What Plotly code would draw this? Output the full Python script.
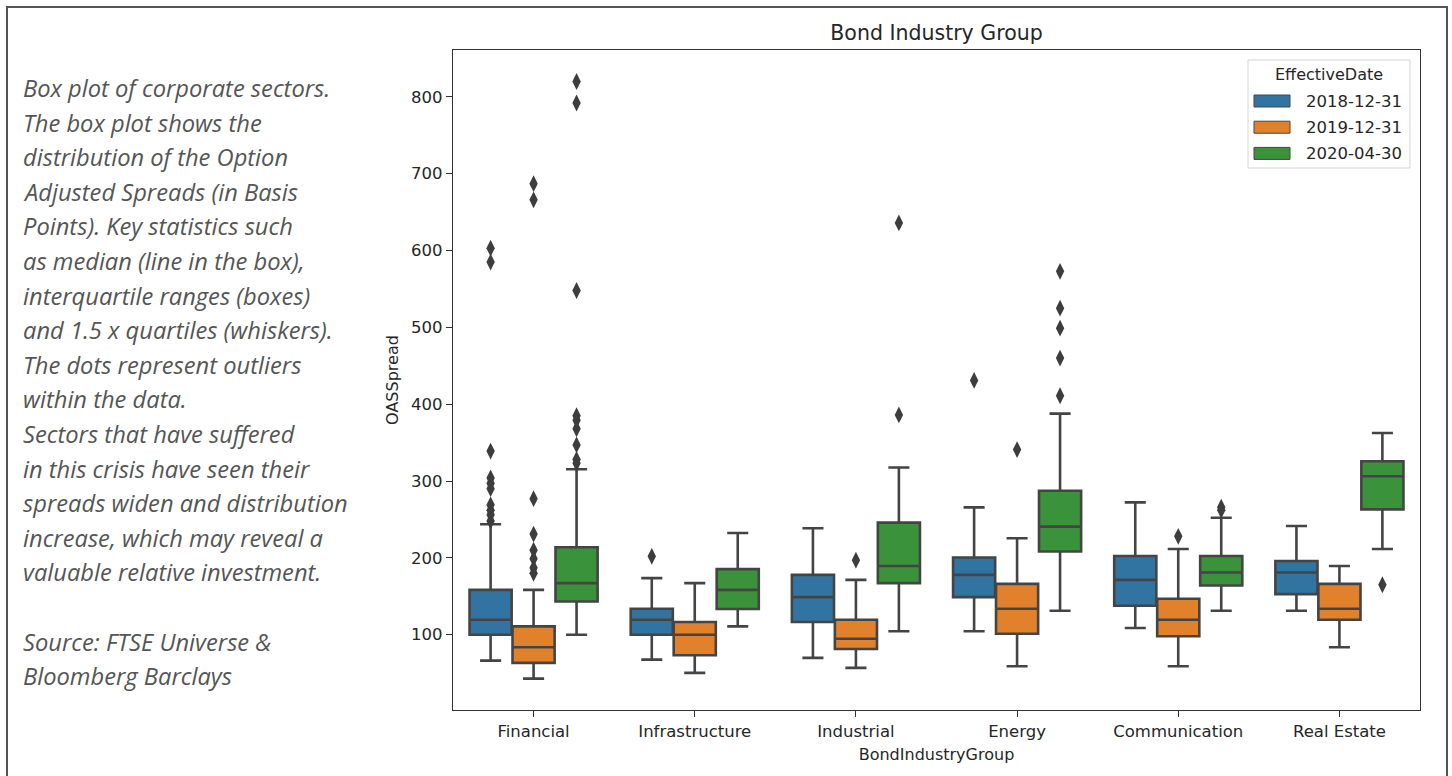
import plotly.graph_objects as go

# ---------------- data ----------------
categories = ["Financial", "Infrastructure", "Industrial", "Energy", "Communication", "Real Estate"]
dates = ["2018-12-31", "2019-12-31", "2020-04-30"]

q1_2018 = [100.0, 100.0, 116.5, 148.9, 137.6, 152.8]
med_2018 = [119.5, 119.5, 148.9, 177.9, 171.4, 181.0]
q3_2018 = [158.4, 133.7, 177.9, 200.4, 202.5, 196.0]
lo_2018 = [66.3, 67.6, 69.8, 104.4, 108.7, 131.1]
hi_2018 = [243.7, 173.6, 238.5, 265.7, 272.2, 241.4]

q1_2019 = [63.3, 73.3, 81.4, 101.3, 97.9, 119.5]
med_2019 = [83.6, 100.0, 94.8, 133.7, 119.5, 133.7]
q3_2019 = [110.9, 116.5, 119.5, 166.2, 146.7, 166.2]
lo_2019 = [42.9, 50.3, 56.8, 59.0, 59.0, 83.6]
hi_2019 = [158.4, 167.1, 171.4, 225.5, 211.6, 189.5]

q1_2020 = [143.3, 133.4, 167.1, 208.2, 164.1, 263.1]
med_2020 = [167.1, 158.4, 189.5, 240.7, 181.0, 306.3]
q3_2020 = [213.8, 185.3, 245.9, 287.4, 202.5, 325.8]
lo_2020 = [100.0, 110.9, 104.4, 131.1, 131.1, 211.6]
hi_2020 = [315.4, 232.4, 317.6, 387.7, 252.3, 362.6]

out_2018 = [
    [603, 585, 339, 304, 297, 290, 269, 262, 256, 248],
    [202],
    [],
    [431],
    [],
    [],
]
out_2019 = [
    [687, 666, 277, 231, 210, 199, 187, 180],
    [],
    [197],
    [341],
    [228],
    [],
]
out_2020 = [
    [820, 792, 548, 385, 379, 368, 347, 328, 323],
    [],
    [636, 386],
    [573, 525, 499, 460, 411],
    [266, 262],
    [165],
]

y_ticks = [100, 200, 300, 400, 500, 600, 700, 800]

# ---------------- styling ----------------
colors = ["#3274A1", "#E1812C", "#3A923A"]
edge = "#444444"
W, H = 1452, 776
L, R, T, B = 453, 1420, 50, 710          # plot area in pixels


def px_x(px):
    return (px - L) / (R - L)


def px_y(py):
    return (B - py) / (B - T)


stats = [
    (q1_2018, med_2018, q3_2018, lo_2018, hi_2018, out_2018),
    (q1_2019, med_2019, q3_2019, lo_2019, hi_2019, out_2019),
    (q1_2020, med_2020, q3_2020, lo_2020, hi_2020, out_2020),
]

slot = 0.8 / 3
offsets = [-slot, 0.0, slot]

fig = go.Figure()
for k, (q1, med, q3, lo, hi, outs) in enumerate(stats):
    xs = [i + offsets[k] for i in range(len(categories))]
    fig.add_trace(go.Box(
        x=xs, q1=q1, median=med, q3=q3, lowerfence=lo, upperfence=hi,
        width=slot * 0.98, whiskerwidth=0.5,
        fillcolor=colors[k], line=dict(color=edge, width=2.6),
        boxpoints=False, name=dates[k], showlegend=False,
    ))
    ox, oy = [], []
    for i, vals in enumerate(outs):
        for v in vals:
            ox.append(i + offsets[k])
            oy.append(v)
    fig.add_trace(go.Scatter(
        x=ox, y=oy, mode="markers", showlegend=False, name=dates[k],
        marker=dict(symbol="diamond-tall", size=12, color="#3d3d3d",
                    line=dict(width=0)),
    ))

# ---------------- left description text ----------------
text_lines = [
    "Box plot of corporate sectors.",
    "The box plot shows the",
    "distribution of the Option",
    "Adjusted Spreads (in Basis",
    "Points). Key statistics such",
    "as median (line in the box),",
    "interquartile ranges (boxes)",
    "and 1.5 x quartiles (whiskers).",
    "The dots represent outliers",
    "within the data.",
    "Sectors that have suffered",
    "in this crisis have seen their",
    "spreads widen and distribution",
    "increase, which may reveal a",
    "valuable relative investment.",
    "",
    "Source: FTSE Universe &",
    "Bloomberg Barclays",
]
annotations = []
for j, line in enumerate(text_lines):
    if not line:
        continue
    yc = 88 + j * 34.6
    annotations.append(dict(
        text=line, xref="paper", yref="paper", x=px_x(21), y=px_y(yc),
        xanchor="left", yanchor="middle", showarrow=False,
        font=dict(family="Open Sans", size=23.7, color="#555555", style="italic"),
    ))

# ---------------- frame and legend (drawn) ----------------
shapes = []
shapes.append(dict(type="rect", xref="paper", yref="paper",
                   x0=px_x(7), x1=px_x(1447), y0=px_y(820), y1=px_y(7),
                   line=dict(color="#555555", width=2), fillcolor="rgba(0,0,0,0)",
                   layer="below"))
shapes.append(dict(type="rect", xref="paper", yref="paper",
                   x0=px_x(1248), x1=px_x(1410), y0=px_y(168), y1=px_y(60),
                   line=dict(color="#d5d5d5", width=1), fillcolor="rgba(255,255,255,0.85)"))
annotations.append(dict(text="EffectiveDate", xref="paper", yref="paper",
                        x=px_x(1329), y=px_y(75), xanchor="center", yanchor="middle",
                        showarrow=False, font=dict(family="DejaVu Sans", size=16, color="#262626")))
for k, d in enumerate(dates):
    yc = 101 + k * 26.2
    shapes.append(dict(type="rect", xref="paper", yref="paper",
                       x0=px_x(1254), x1=px_x(1290), y0=px_y(yc + 6), y1=px_y(yc - 6),
                       line=dict(color=edge, width=1), fillcolor=colors[k]))
    annotations.append(dict(text=d, xref="paper", yref="paper",
                            x=px_x(1304), y=px_y(yc), xanchor="left", yanchor="middle",
                            showarrow=False,
                            font=dict(family="DejaVu Sans", size=16.5, color="#262626")))

axis_common = dict(showline=True, mirror=True, linecolor="#333333", linewidth=1.3,
                   ticks="outside", ticklen=6, tickcolor="#333333", tickwidth=1.2,
                   showgrid=False, zeroline=False,
                   tickfont=dict(family="DejaVu Sans", size=16.5, color="#262626"))

fig.update_layout(
    width=W, height=H,
    margin=dict(l=L, r=W - R, t=T, b=H - B, pad=0),
    paper_bgcolor="white", plot_bgcolor="white",
    boxmode="overlay",
    title=dict(text="Bond Industry Group", x=(L + R) / 2 / W, xref="container", xanchor="center",
               y=1 - 33 / H, yref="container", yanchor="middle",
               font=dict(family="DejaVu Sans", size=20.5, color="#262626")),
    xaxis=dict(range=[-0.5, 5.5], tickvals=list(range(len(categories))), ticktext=categories,
               title=dict(text="BondIndustryGroup", standoff=8,
                          font=dict(family="DejaVu Sans", size=16, color="#262626")),
               **axis_common),
    yaxis=dict(range=[2, 861], tickvals=y_ticks, ticktext=[str(v) for v in y_ticks],
               title=dict(text="OASSpread", standoff=8,
                          font=dict(family="DejaVu Sans", size=16, color="#262626")),
               **axis_common),
    shapes=shapes,
    annotations=annotations,
    showlegend=False,
)

fig.write_html("out.html", config={"displayModeBar": False},
               post_script="document.body.style.margin='0';")
